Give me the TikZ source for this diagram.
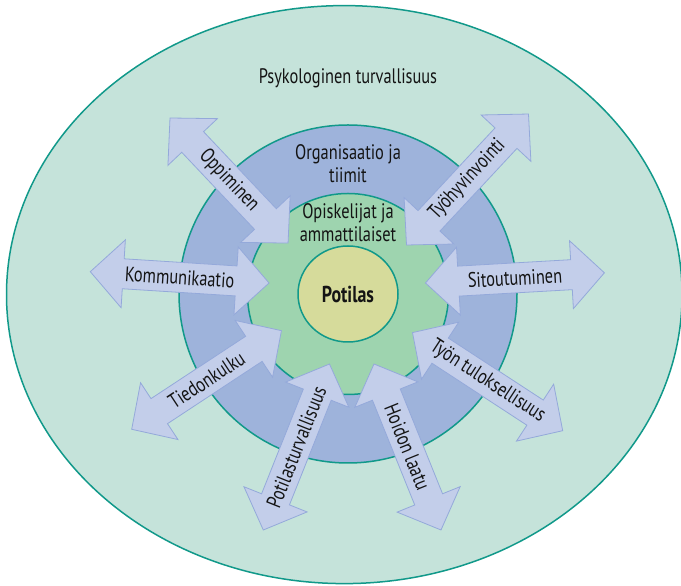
\documentclass[tikz,border=0pt]{standalone}
\usepackage{fontspec}
\setmainfont{PT Sans}[FakeStretch=0.78]
\usepackage{tikz}

\definecolor{outerfill}{HTML}{C5E3DA}
\definecolor{ringline}{HTML}{11998A}
\definecolor{bluering}{HTML}{9EB3DB}
\definecolor{greenring}{HTML}{9ED4AF}
\definecolor{core}{HTML}{D6DB9B}
\definecolor{arrowfill}{HTML}{C3CEEA}
\definecolor{arrowline}{HTML}{94A9DA}
\definecolor{inktext}{HTML}{141414}

\begin{document}
\begin{tikzpicture}[x=1pt, y=1pt,
    ring/.style={draw=ringline, line width=1.5pt},
    fatarrow/.style={fill=arrowfill, draw=arrowline, line width=0.8pt, line join=miter},
    label/.style={text=inktext, align=center, font=\fontsize{21}{23}\selectfont}]
    \useasboundingbox (0,0) rectangle (681,586);

    % Layers: outer ellipse and three rings
    \filldraw[ring, fill=outerfill] (344.3,291.4) ellipse (337.8 and 289);
    \filldraw[ring, fill=bluering] (348,292) circle (169);
    \filldraw[ring, fill=greenring] (348,292) circle (100.5);
    \filldraw[ring, fill=core] (348,292) ellipse (50 and 48);

    % Double arrows: start point, angle, length, text
    \foreach \x/\y/\a/\l/\txt [count=\i] in {
        170/468/-46.65/172/Oppiminen,
        406.5/341/47.03/179/Työhyvinvointi,
        90.3/314.3/-3.62/179.1/Kommunikaatio,
        425.5/303/3.26/179.2/Sitoutuminen,
        131.7/156.7/33.37/179.3/Tiedonkulku,
        412.5/253.4/-33.15/179.4/Työn tuloksellisuus,
        263.3/56/68.26/178.7/Potilasturvallisuus,
        374/222/-68.02/179/Hoidon laatu} {
        \begin{scope}[shift={(\x,\y)}, rotate=\a]
            \draw[fatarrow] (0,0) -- (33,34) -- (33,15) -- (\l-33,15) -- (\l-33,34)
                -- (\l,0) -- (\l-33,-34) -- (\l-33,-15) -- (33,-15) -- (33,-34) -- cycle;
            \node[label, rotate=\a] (arr\i) at (\l/2,0) {\txt};
        \end{scope}
    }

    % Ring labels
    \node[label] (psy) at (348,508) {Psykologinen turvallisuus};
    \node[label] (org) at (348,422) {Organisaatio ja\\tiimit};
    \node[label] (opi) at (348,363) {Opiskelijat ja\\ammattilaiset};
    \node[label, font=\fontsize{23}{25}\bfseries] (pot) at (348,292) {Potilas};
\end{tikzpicture}
\end{document}
